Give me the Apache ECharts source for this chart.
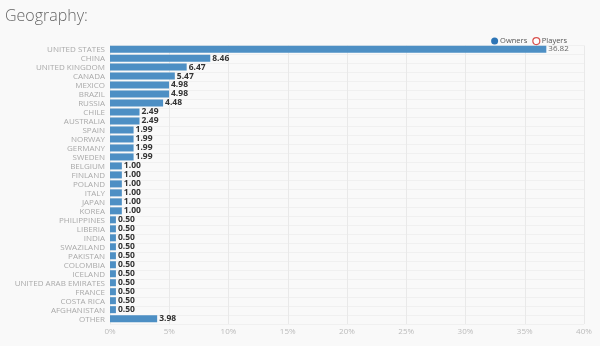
<!DOCTYPE html>
<html>
<head>
<meta charset="utf-8">
<script src="https://cdn.jsdelivr.net/npm/echarts@6/dist/echarts.min.js"></script>
<style>
html,body{margin:0;padding:0;background:#f9f9f9;}
#c{width:600px;height:346px;}
</style>
</head>
<body>
<div id="c"></div>
<script>
const categories = ["UNITED STATES","CHINA","UNITED KINGDOM","CANADA","MEXICO","BRAZIL","RUSSIA","CHILE","AUSTRALIA","SPAIN","NORWAY","GERMANY","SWEDEN","BELGIUM","FINLAND","POLAND","ITALY","JAPAN","KOREA","PHILIPPINES","LIBERIA","INDIA","SWAZILAND","PAKISTAN","COLOMBIA","ICELAND","UNITED ARAB EMIRATES","FRANCE","COSTA RICA","AFGHANISTAN","OTHER"];
const owners = [36.82,8.46,6.47,5.47,4.98,4.98,4.48,2.49,2.49,1.99,1.99,1.99,1.99,1.00,1.00,1.00,1.00,1.00,1.00,0.50,0.50,0.50,0.50,0.50,0.50,0.50,0.50,0.50,0.50,0.50,3.98];
const players = [];
const seriesNames = ["Owners","Players"];
const xTicks = {min:0, max:40, interval:5};

const chart = echarts.init(document.getElementById('c'));
const ownersData = owners.map((v,i)=> i===0 ? {value:v,label:{fontWeight:'normal',color:'#666',fontSize:8}} : v);
chart.setOption({
  backgroundColor:'#f9f9f9',
  animation:false,
  title:{text:'Geography:',left:0,top:3,textStyle:{fontFamily:'Open Sans',fontWeight:300,fontSize:16,color:'#666'}},
  legend:{
    right:28,top:32,itemWidth:7,itemHeight:7,itemGap:5,
    textStyle:{fontFamily:'Open Sans',fontSize:7.5,color:'#555',padding:[0,0,0,-3]},
    data:[
      {name:seriesNames[0],icon:'circle',itemStyle:{color:'#2d75b6'}},
      {name:seriesNames[1],icon:'circle',itemStyle:{color:'#fff',borderColor:'#d9534f',borderWidth:1.2}}
    ]
  },
  grid:{left:110,right:16,top:45.5,bottom:22,containLabel:false},
  xAxis:{
    type:'value',min:xTicks.min,max:xTicks.max,interval:xTicks.interval,
    axisLine:{show:false},axisTick:{show:false},
    axisLabel:{formatter:'{value}%',fontFamily:'Open Sans',fontSize:8,color:'#bbb',margin:4},
    splitLine:{lineStyle:{color:'#e9e9e9',width:1}}
  },
  yAxis:{
    type:'category',data:categories,inverse:true,
    axisLine:{show:false},axisTick:{show:false},
    axisLabel:{fontFamily:'Open Sans',fontSize:8,color:'#aaa',margin:5,interval:0},
    splitLine:{show:true,lineStyle:{color:'#f0f0f0',width:1}}
  },
  series:[
    {name:seriesNames[0],type:'bar',data:ownersData,barWidth:7,
     itemStyle:{color:'#4d8fc4'},
     label:{show:true,position:'right',distance:2,formatter:p=>p.value.toFixed(2),fontFamily:'Open Sans',fontSize:8.5,fontWeight:'bold',color:'#333'}},
    {name:seriesNames[1],type:'bar',data:players,itemStyle:{color:'#fff',borderColor:'#d9534f'}}
  ]
});
</script>
</body>
</html>
